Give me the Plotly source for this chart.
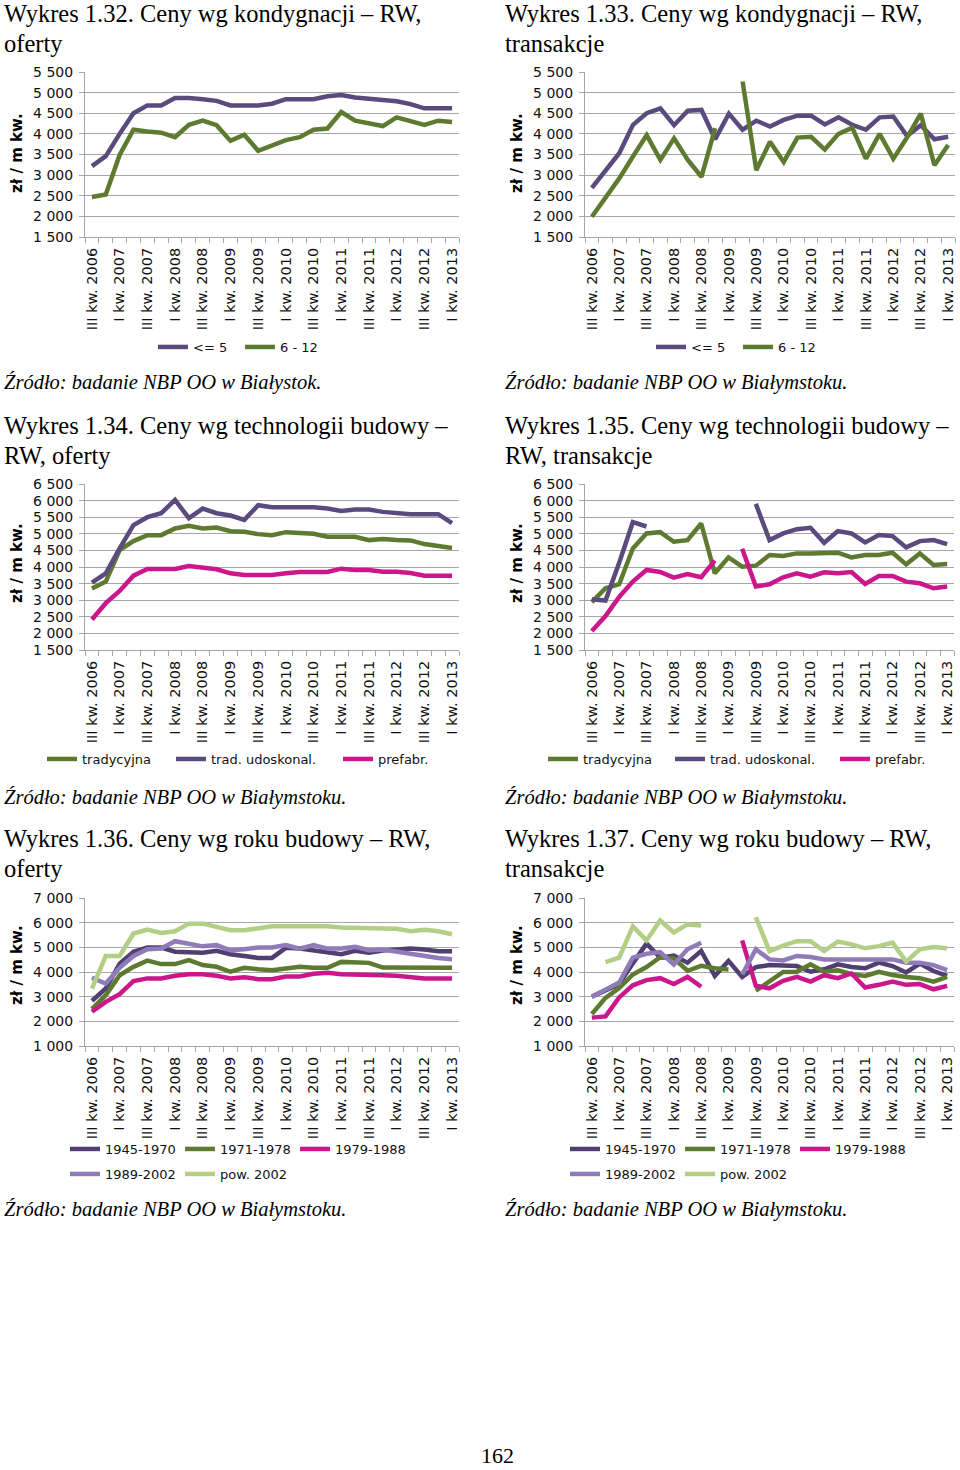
import plotly.graph_objects as go

# ---------------- data ----------------
quarters = [
    "III kw. 2006", "IV kw. 2006",
    "I kw. 2007", "II kw. 2007", "III kw. 2007", "IV kw. 2007",
    "I kw. 2008", "II kw. 2008", "III kw. 2008", "IV kw. 2008",
    "I kw. 2009", "II kw. 2009", "III kw. 2009", "IV kw. 2009",
    "I kw. 2010", "II kw. 2010", "III kw. 2010", "IV kw. 2010",
    "I kw. 2011", "II kw. 2011", "III kw. 2011", "IV kw. 2011",
    "I kw. 2012", "II kw. 2012", "III kw. 2012", "IV kw. 2012",
    "I kw. 2013",
]

# Wykres 1.32 (oferty, kondygnacje)
w132_le5 = [3220, 3460, 4000, 4500, 4690, 4690, 4870, 4870, 4840, 4800, 4690, 4690, 4690, 4730,
            4840, 4840, 4840, 4910, 4940, 4880, 4840, 4820, 4790, 4720, 4620, 4620, 4620]
w132_6_12 = [2470, 2530, 3490, 4100, 4060, 4030, 3920, 4220, 4320, 4210, 3830, 3980, 3590, 3730,
             3850, 3920, 4100, 4130, 4530, 4320, 4260, 4190, 4400, 4310, 4220, 4320, 4290]

# Wykres 1.33 (transakcje, kondygnacje)
w133_le5 = [2690, 3120, 3530, 4220, 4500, 4620, 4210, 4560, 4580, 3870, 4490, 4100, 4320, 4180,
            4340, 4440, 4440, 4230, 4400, 4220, 4100, 4400, 4420, 3950, 4210, 3870, 3930]
w133_6_12 = [1990, 2470, 2920, 3450, 3970, 3370, 3890, 3370, 2960, 4140, None, 5270, 3120, 3810,
             3320, 3910, 3930, 3620, 4000, 4150, 3400, 4000, 3400, 3910, 4490, 3240, 3730]

# Wykres 1.34 (oferty, technologia)
w134_trad = [3350, 3560, 4510, 4780, 4960, 4960, 5160, 5240, 5160, 5190, 5080, 5060, 4990, 4960,
             5050, 5010, 5000, 4910, 4910, 4910, 4810, 4840, 4810, 4800, 4690, 4640, 4570]
w134_udosk = [3530, 3810, 4560, 5260, 5500, 5620, 6020, 5470, 5760, 5620, 5550, 5420, 5860, 5800,
              5800, 5800, 5800, 5760, 5690, 5730, 5730, 5660, 5620, 5590, 5590, 5590, 5320]
w134_prefabr = [2420, 2910, 3280, 3740, 3940, 3940, 3940, 4030, 3980, 3930, 3810, 3760, 3760, 3760,
                3810, 3850, 3850, 3850, 3950, 3910, 3910, 3860, 3860, 3820, 3740, 3740, 3740]

# Wykres 1.35 (transakcje, technologia)
w135_trad = [2940, 3360, 3480, 4560, 5010, 5050, 4760, 4810, 5310, 3810, 4290, 4010, 4040, 4360,
             4330, 4410, 4410, 4410, 4430, 4290, 4360, 4360, 4430, 4080, 4410, 4060, 4090]
w135_udosk = [3030, 2990, 4130, 5350, 5220, None, None, None, None, None, None, None, 5900, 4810,
              5010, 5140, 5180, 4730, 5080, 5010, 4740, 4960, 4930, 4590, 4780, 4810, 4690]
w135_prefabr = [2070, 2520, 3100, 3560, 3910, 3850, 3680, 3790, 3690, 4190, None, 4550, 3410, 3480,
                3690, 3810, 3710, 3840, 3810, 3850, 3490, 3730, 3730, 3560, 3510, 3360, 3410]

# Wykres 1.36 (oferty, rok budowy)
w136_1945 = [2830, 3330, 4340, 4820, 4990, 4990, 4820, 4820, 4780, 4860, 4720, 4650, 4570, 4570,
             4980, 4950, 4880, 4820, 4720, 4860, 4780, 4870, 4900, 4950, 4910, 4840, 4840]
w136_1971 = [2500, 3060, 3870, 4210, 4460, 4320, 4320, 4480, 4280, 4210, 4010, 4170, 4110, 4070,
             4140, 4210, 4170, 4170, 4410, 4410, 4370, 4180, 4180, 4180, 4140, 4140, 4170]
w136_1979 = [2390, 2790, 3100, 3630, 3740, 3740, 3850, 3910, 3910, 3850, 3740, 3790, 3710, 3710,
             3820, 3820, 3930, 3970, 3910, 3910, 3870, 3870, 3850, 3780, 3740, 3740, 3740]
w136_1989 = [3760, 3530, 4170, 4650, 4920, 4950, 5250, 5150, 5040, 5090, 4880, 4920, 4990, 4990,
             5090, 4950, 5090, 4950, 4950, 5020, 4880, 4910, 4820, 4720, 4640, 4570, 4520]
w136_2002 = [3330, 4650, 4650, 5560, 5720, 5580, 5650, 5960, 5960, 5830, 5690, 5690, 5760, 5850,
             5850, 5850, 5850, 5850, 5800, 5800, 5800, 5760, 5750, 5650, 5710, 5650, 5530]

# Wykres 1.37 (transakcje, rok budowy)
w137_1945 = [3000, 3250, 3500, 4350, 5150, 4580, 4670, 4380, 4850, 3840, 4450, 3800, 4200, 4280,
             4240, 4240, 4010, 4110, 4310, 4200, 4150, 4380, 4240, 3980, 4340, 4040, 3840]
w137_1971 = [2300, 2950, 3350, 3900, 4200, 4600, 4550, 4050, 4250, 4150, 4100, None, 3240, 3640,
             4000, 4010, 4310, 4010, 4070, 3910, 3840, 4010, 3880, 3800, 3750, 3610, 3800]
w137_1979 = [2150, 2200, 2970, 3460, 3670, 3750, 3510, 3800, 3400, None, None, 5280, 3440, 3340,
             3640, 3800, 3610, 3870, 3750, 3940, 3370, 3480, 3610, 3480, 3510, 3300, 3440]
w137_1989 = [3000, 3300, 3570, 4580, 4740, 4810, 4300, 4920, 5190, None, None, 3900, 4920, 4510,
             4470, 4650, 4610, 4510, 4510, 4510, 4510, 4550, 4510, 4380, 4380, 4280, 4080]
w137_2002 = [None, 4400, 4580, 5850, 5280, 6090, 5600, 5930, 5880, None, None, None, 6220, 4850,
             5070, 5250, 5250, 4850, 5230, 5120, 4960, 5050, 5190, 4420, 4920, 5010, 4960]

# ---------------- style ----------------
W, H = 960, 1470
PURPLE = "#5b4a7e"
DPURPLE = "#513f72"
GREEN = "#5e7a30"
MAGENTA = "#cc168c"
LPURPLE = "#8f7bb8"
LGREEN = "#b3ce85"
GRID = "#a6a6a6"
SANS = "DejaVu Sans"
SERIF = "Liberation Serif"
LW = 4.5


def fx(p):
    return p / W


def fy(p):
    return 1 - p / H


charts = [
    dict(dom=(85, 459, 72, 237), yr=(1500, 5500), dt=500, ytp=(17, 153),
         series=[("<= 5", w132_le5, PURPLE, (158, 347)), ("6 - 12", w132_6_12, GREEN, (245, 347))]),
    dict(dom=(585, 955, 72, 237), yr=(1500, 5500), dt=500, ytp=(517, 153),
         series=[("<= 5", w133_le5, PURPLE, (656, 347)), ("6 - 12", w133_6_12, GREEN, (743, 347))]),
    dict(dom=(85, 459, 484, 650), yr=(1500, 6500), dt=500, ytp=(17, 563),
         series=[("tradycyjna", w134_trad, GREEN, (47, 759)),
                 ("trad. udoskonal.", w134_udosk, PURPLE, (176, 759)),
                 ("prefabr.", w134_prefabr, MAGENTA, (343, 759))]),
    dict(dom=(585, 954, 484, 650), yr=(1500, 6500), dt=500, ytp=(517, 563),
         series=[("tradycyjna", w135_trad, GREEN, (548, 759)),
                 ("trad. udoskonal.", w135_udosk, PURPLE, (675, 759)),
                 ("prefabr.", w135_prefabr, MAGENTA, (840, 759))]),
    dict(dom=(85, 459, 898, 1046), yr=(1000, 7000), dt=1000, ytp=(17, 965),
         series=[("1945-1970", w136_1945, DPURPLE, (70, 1149)),
                 ("1971-1978", w136_1971, GREEN, (185, 1149)),
                 ("1979-1988", w136_1979, MAGENTA, (300, 1149)),
                 ("1989-2002", w136_1989, LPURPLE, (70, 1174)),
                 ("pow. 2002", w136_2002, LGREEN, (185, 1174))]),
    dict(dom=(585, 954, 898, 1046), yr=(1000, 7000), dt=1000, ytp=(517, 965),
         series=[("1945-1970", w137_1945, DPURPLE, (570, 1149)),
                 ("1971-1978", w137_1971, GREEN, (685, 1149)),
                 ("1979-1988", w137_1979, MAGENTA, (800, 1149)),
                 ("1989-2002", w137_1989, LPURPLE, (570, 1174)),
                 ("pow. 2002", w137_2002, LGREEN, (685, 1174))]),
]

fig = go.Figure()
layout_upd = {}
xidx = list(range(len(quarters)))
legend_n = 0
for k, ch in enumerate(charts, start=1):
    x0, x1, y0, y1 = ch["dom"]
    xa = "xaxis" if k == 1 else f"xaxis{k}"
    ya = "yaxis" if k == 1 else f"yaxis{k}"
    xr = "x" if k == 1 else f"x{k}"
    yr = "y" if k == 1 else f"y{k}"
    layout_upd[xa] = dict(
        domain=[fx(x0), fx(x1)], anchor=yr, range=[-0.5, len(quarters) - 0.5],
        tickmode="array", tickvals=xidx[::2], ticktext=quarters[::2], tickangle=-90,
        ticks="", showgrid=False, zeroline=False, showline=True, linecolor=GRID, linewidth=1,
        tickfont=dict(family=SANS, size=14.5, color="#111"), ticklabelstandoff=4,
        minor=dict(tickmode="linear", tick0=-0.5, dtick=1, ticks="outside", ticklen=5,
                   tickcolor=GRID, tickwidth=1, showgrid=False),
        fixedrange=True, automargin=False,
    )
    layout_upd[ya] = dict(
        domain=[fy(y1), fy(y0)], anchor=xr, range=list(ch["yr"]), tickmode="linear",
        tick0=0, dtick=ch["dt"], tickformat=",d", showgrid=True, gridcolor=GRID, gridwidth=1,
        zeroline=False, showline=True, linecolor=GRID, linewidth=1, ticks="outside",
        ticklen=5, tickcolor=GRID, tickfont=dict(family=SANS, size=14, color="#111"),
        ticklabelstandoff=3, fixedrange=True, automargin=False,
    )
    for name, vals, color, (lx, ly) in ch["series"]:
        legend_n += 1
        lg = "legend" if legend_n == 1 else f"legend{legend_n}"
        fig.add_trace(go.Scatter(
            x=xidx, y=vals, mode="lines", name=name, xaxis=xr, yaxis=yr,
            line=dict(color=color, width=LW), connectgaps=False, legend=lg,
            hoverinfo="skip",
        ))
        layout_upd[lg] = dict(
            x=fx(lx - 5), y=fy(ly), xanchor="left", yanchor="middle", orientation="h",
            bgcolor="rgba(0,0,0,0)", borderwidth=0, itemwidth=30,
            font=dict(family=SANS, size=13, color="#111"),
        )

ann = []


def text(x, y, s, size, family=SERIF, xanchor="left", italic=False, bold=False, angle=0):
    style = "italic" if italic else "normal"
    ann.append(dict(
        x=fx(x), y=fy(y), xref="paper", yref="paper", text=s, showarrow=False,
        xanchor=xanchor, yanchor="middle", textangle=angle,
        font=dict(family=family, size=size, color="#000", style=style,
                  weight="bold" if bold else "normal"),
    ))


titles = [
    (2, 13, "Wykres 1.32. Ceny wg kondygnacji – RW,", "oferty"),
    (503, 13, "Wykres 1.33. Ceny wg kondygnacji – RW,", "transakcje"),
    (2, 425, "Wykres 1.34. Ceny wg technologii budowy –", "RW, oferty"),
    (503, 425, "Wykres 1.35. Ceny wg technologii budowy –", "RW, transakcje"),
    (2, 838, "Wykres 1.36. Ceny wg roku budowy – RW,", "oferty"),
    (503, 838, "Wykres 1.37. Ceny wg roku budowy – RW,", "transakcje"),
]
for x, y, l1, l2 in titles:
    text(x, y, l1, 24.5)
    text(x, y + 31, l2, 24.5)

sources = [
    (2, 383, "Źródło: badanie NBP OO w Białystok."),
    (503, 383, "Źródło: badanie NBP OO w Białymstoku."),
    (2, 797, "Źródło: badanie NBP OO w Białymstoku."),
    (503, 797, "Źródło: badanie NBP OO w Białymstoku."),
    (2, 1209, "Źródło: badanie NBP OO w Białymstoku."),
    (503, 1209, "Źródło: badanie NBP OO w Białymstoku."),
]
for x, y, s in sources:
    text(x, y, s, 20.5, italic=True)

for ch in charts:
    tx, ty = ch["ytp"]
    text(tx, ty, "zł / m kw.", 15, family=SANS, xanchor="center", bold=True, angle=-90)

text(497, 1455, "162", 22, xanchor="center")

fig.update_layout(
    width=W, height=H, autosize=False,
    margin=dict(l=0, r=0, t=0, b=0, pad=0, autoexpand=False),
    paper_bgcolor="white", plot_bgcolor="white", separators=", ",
    showlegend=True, annotations=ann, **layout_upd,
)

reset_margin = ("}); document.documentElement.style.margin='0'; "
                "document.body.style.margin='0'; document.body.style.padding='0'; "
                "(function(){")

fig.write_html("out.html", config={"displayModeBar": False}, post_script=reset_margin)
